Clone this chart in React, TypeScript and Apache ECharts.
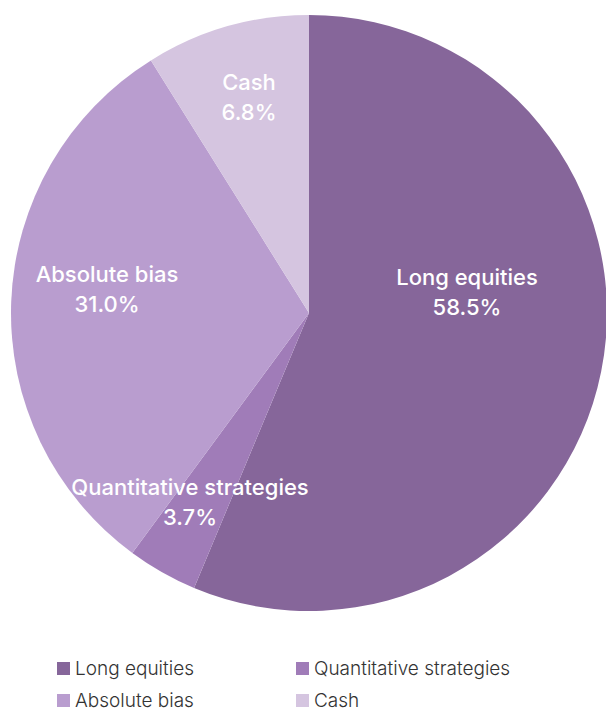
import React, { useEffect, useRef } from "react";
import * as echarts from "echarts";

const categories = ["Long equities", "Quantitative strategies", "Absolute bias", "Cash"];
// slice sizes as drawn in the picture (angles measured)
const sliceValues = [56.3, 3.8, 31.0, 8.9];
// percentages printed on the slices
const labelPercents = ["58.5%", "3.7%", "31.0%", "6.8%"];
const colors = ["#86669a", "#a07cb8", "#b99dcf", "#d5c5e0"];
const legendLeft = ["Long equities", "Absolute bias"];
const legendRight = ["Quantitative strategies", "Cash"];

// label offsets from the pie centre (px)
const labelOffsets: [number, number][] = [
  [158, -21],
  [-119, 189],
  [-202, -24],
  [-60, -216],
];

const CX = 309;
const CY = 313;
const R = 298;

export default function App() {
  const ref = useRef<HTMLDivElement>(null);
  useEffect(() => {
    if (!ref.current) return;
    const chart = echarts.init(ref.current, undefined, { renderer: "svg" });
    const legendCommon = {
      orient: "vertical" as const,
      top: 659,
      padding: 0,
      itemWidth: 13,
      itemHeight: 13,
      itemGap: 13,
      icon: "rect",
      textStyle: {
        fontFamily: "Inter",
        fontSize: 19,
        fontWeight: 300,
        color: "#333333",
        lineHeight: 16,
      },
    };
    chart.setOption({
      animation: false,
      color: colors,
      legend: [
        { ...legendCommon, left: 57, data: legendLeft },
        { ...legendCommon, left: 296, data: legendRight },
      ],
      series: [
        {
          type: "pie",
          center: [CX, CY],
          radius: [0, R],
          startAngle: 90,
          clockwise: true,
          avoidLabelOverlap: false,
          labelLine: { show: false },
          itemStyle: { borderWidth: 0 },
          emphasis: { disabled: true },
          label: {
            show: true,
            position: "inside",
            color: "#ffffff",
            fontFamily: "Inter",
            fontSize: 22,
            fontWeight: 500,
            lineHeight: 30,
            align: "center",
            formatter: (p: any) => `${p.name}\n${labelPercents[p.dataIndex]}`,
          },
          labelLayout: (params: any) => {
            const off = labelOffsets[params.dataIndex];
            return {
              x: CX + off[0],
              y: CY + off[1],
              align: "center",
              verticalAlign: "middle",
            };
          },
          data: categories.map((name, i) => ({ name, value: sliceValues[i] })),
        },
      ],
    });
    return () => chart.dispose();
  }, []);
  return (
    <div
      ref={ref}
      style={{ position: "absolute", left: 0, top: 0, width: 606, height: 713 }}
    />
  );
}
